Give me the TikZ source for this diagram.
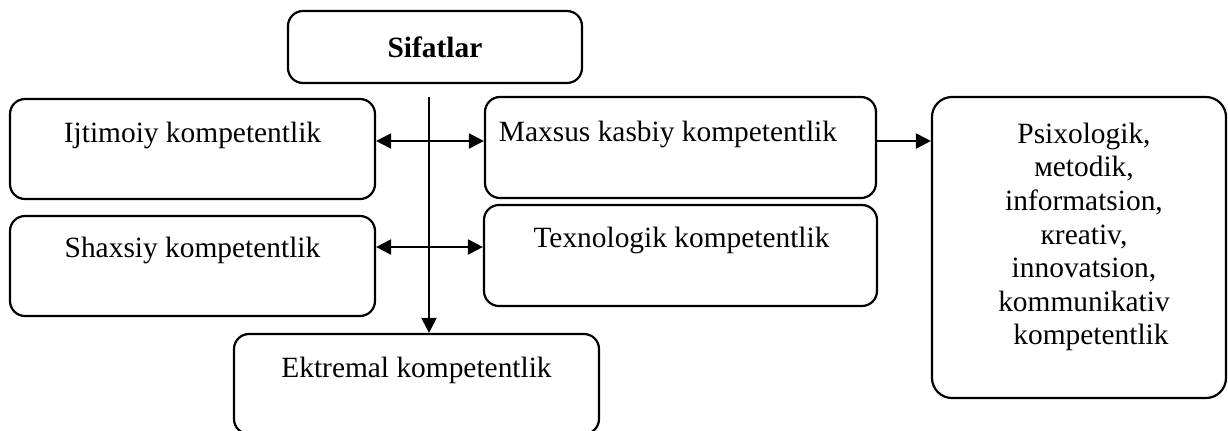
\documentclass[tikz,border=0pt]{standalone}
\usepackage{fontspec}
\setmainfont{Liberation Serif}
\usetikzlibrary{arrows.meta}
\begin{document}
\begin{tikzpicture}[x=0.5pt, y=-0.5pt,
    font=\fontsize{14.7pt}{16.8pt}\selectfont,
    kbox/.style={draw, line width=1.1pt, rounded corners=7.5pt, inner sep=0pt},
    ktext/.style={anchor=base, inner sep=0pt},
    link/.style={line width=1.1pt, -{Triangle[length=7.5pt,width=7.5pt]}},
    both/.style={line width=1.1pt, {Triangle[length=7.5pt,width=7.5pt]}-{Triangle[length=7.5pt,width=7.5pt]}}]
    \useasboundingbox (0,0) rectangle (1228,430);
    % boxes
    \node[kbox, minimum width=147pt, minimum height=36pt,
        font=\fontsize{14.7pt}{16.8pt}\selectfont\bfseries] (sif) at (435,47) {Sifatlar};
    \node[kbox, minimum width=182.5pt, minimum height=50pt] (ijt) at (192.5,149) {};
    \node[kbox, minimum width=182.5pt, minimum height=50pt] (shx) at (192.5,266) {};
    \node[kbox, minimum width=195.5pt, minimum height=50.5pt] (max) at (680.5,147.5) {};
    \node[kbox, minimum width=196.5pt, minimum height=50.5pt] (tex) at (680.5,255.5) {};
    \node[kbox, minimum width=182.5pt, minimum height=50pt] (ekt) at (416.5,384) {};
    \node[kbox, rounded corners=10pt, minimum width=147pt, minimum height=150.5pt] (psi) at (1079,247.5) {};
    % texts
    \node[ktext] (ijt-t) at (192.5,142) {Ijtimoiy kompetentlik};
    \node[ktext] (shx-t) at (192.5,257) {Shaxsiy kompetentlik};
    \node[ktext] (max-t) at (668,141) {Maxsus kasbiy kompetentlik};
    \node[ktext] (tex-t) at (681.5,247) {Texnologik kompetentlik};
    \node[ktext] (ekt-t) at (416.5,377) {Ektremal kompetentlik};
    \node[text width=140pt, align=center, inner sep=0pt] (psi-t) at (1084,237) {Psixologik,\\мetodik,\\informatsion,\\кreativ,\\innovatsion,\\kommunikativ\\\hspace*{7pt}kompetentlik};
    % connectors
    \coordinate (mid) at (429,97);
    \draw[link] (mid) -- (mid |- ekt.north);
    \draw[both] (ijt.east |- 0,141) -- (max.west |- 0,141);
    \draw[both] (shx.east |- 0,247) -- (tex.west |- 0,247);
    \draw[link] (max.east |- 0,141) -- (psi.west |- 0,141);
\end{tikzpicture}
\end{document}
